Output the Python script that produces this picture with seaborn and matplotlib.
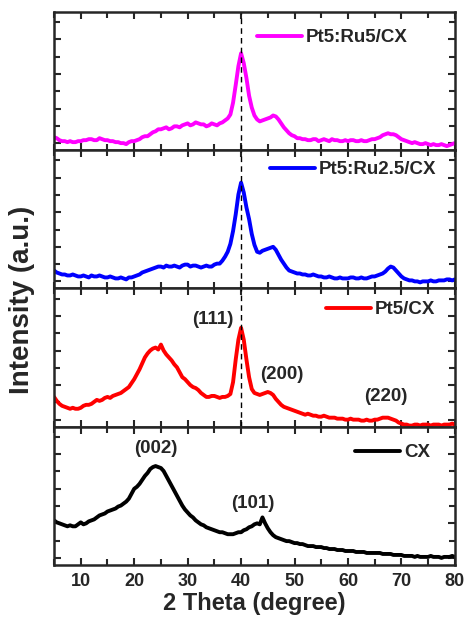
import numpy as np
import pandas as pd
import seaborn as sns
import matplotlib.pyplot as plt
from matplotlib.ticker import MultipleLocator, FixedLocator

# 2 theta grid (degree), 5 to 80 in 0.5 steps, intensities (a.u.)
two_theta = np.arange(5, 80.5, 0.5)

pt5_ru5 = [13, 12, 10, 9, 9, 8, 9, 8, 8, 9, 9, 10, 10, 11, 11, 10, 10, 12, 11, 10,
           10, 9, 9, 8, 8, 7, 7, 6, 8, 9, 9, 10, 11, 13, 14, 14, 16, 18, 19, 21,
           21, 22, 23, 21, 22, 24, 24, 23, 25, 26, 27, 25, 26, 28, 27, 26, 26, 24, 25, 27,
           26, 25, 27, 28, 30, 32, 36, 48, 66, 85, 98, 88, 73, 55, 43, 35, 31, 29, 30, 31,
           32, 33, 35, 34, 31, 27, 23, 20, 17, 15, 14, 12, 12, 11, 11, 10, 10, 11, 11, 9,
           10, 11, 10, 9, 11, 10, 10, 9, 9, 10, 9, 10, 10, 9, 9, 10, 9, 9, 10, 11,
           11, 12, 13, 15, 16, 17, 16, 16, 15, 13, 11, 10, 9, 8, 7, 8, 7, 6, 6, 7,
           6, 5, 6, 5, 5, 6, 5, 4, 5, 6, 7]
pt5_ru25 = [18, 16, 15, 14, 14, 13, 13, 14, 13, 12, 12, 13, 12, 11, 13, 12, 12, 13, 12, 11,
            11, 12, 11, 10, 10, 11, 10, 9, 11, 11, 12, 13, 14, 16, 17, 18, 19, 20, 21, 22,
            22, 21, 23, 22, 22, 23, 22, 21, 23, 24, 24, 22, 23, 23, 22, 21, 22, 23, 22, 22,
            24, 25, 25, 28, 32, 37, 45, 58, 75, 95, 107, 97, 82, 70, 55, 44, 37, 36, 38, 39,
            40, 41, 42, 39, 34, 29, 25, 21, 18, 17, 16, 15, 15, 14, 14, 13, 13, 14, 13, 12,
            12, 11, 11, 12, 11, 10, 10, 11, 10, 10, 10, 11, 11, 10, 10, 11, 10, 10, 11, 12,
            12, 13, 14, 15, 17, 20, 22, 21, 18, 15, 12, 10, 9, 8, 8, 7, 7, 6, 7, 7,
            7, 8, 7, 7, 8, 8, 8, 9, 9, 8, 9]
pt5 = [30, 26, 23, 21, 20, 19, 18, 19, 18, 18, 19, 21, 22, 22, 23, 25, 27, 26, 27, 29,
       30, 29, 31, 32, 33, 34, 36, 38, 40, 44, 48, 53, 58, 64, 70, 74, 77, 79, 80, 78,
       83, 77, 73, 70, 67, 63, 60, 55, 50, 48, 45, 42, 40, 39, 37, 34, 32, 30, 30, 31,
       31, 30, 29, 30, 30, 31, 33, 45, 68, 88, 100, 88, 68, 50, 38, 34, 33, 32, 33, 34,
       35, 34, 32, 28, 25, 22, 20, 19, 18, 17, 16, 15, 14, 13, 12, 13, 12, 11, 11, 10,
       10, 11, 10, 9, 9, 9, 8, 8, 8, 7, 7, 8, 7, 7, 7, 6, 6, 7, 6, 6,
       7, 7, 8, 9, 9, 9, 8, 7, 6, 4, 3, 2, 2, 1, 1, 2, 2, 1, 2, 2,
       2, 1, 2, 2, 2, 1, 2, 2, 2, 3, 2]
cx = [45, 43, 42, 41, 40, 39, 40, 39, 39, 41, 43, 41, 42, 44, 45, 46, 48, 50, 51, 52,
      54, 55, 56, 57, 59, 60, 62, 64, 67, 72, 77, 79, 82, 86, 90, 93, 97, 99, 100, 99,
      98, 95, 90, 85, 80, 75, 70, 65, 60, 56, 53, 50, 48, 45, 43, 41, 40, 38, 37, 36,
      35, 34, 33, 33, 32, 31, 31, 31, 32, 33, 33, 35, 36, 38, 39, 41, 42, 41, 48, 42,
      37, 33, 30, 28, 27, 26, 25, 24, 24, 23, 22, 22, 21, 21, 20, 19, 19, 19, 18, 18,
      18, 17, 17, 16, 16, 16, 15, 15, 15, 14, 14, 14, 14, 13, 13, 13, 13, 12, 12, 12,
      12, 12, 12, 11, 11, 11, 11, 10, 10, 10, 10, 9, 9, 9, 9, 8, 9, 8, 8, 8,
      8, 9, 8, 8, 8, 7, 8, 8, 8, 9, 8]

labels = ["Pt5:Ru5/CX", "Pt5:Ru2.5/CX", "Pt5/CX", "CX"]
colors = ["#ff00ff", "#0000ff", "#ff0000", "#000000"]
series = [pt5_ru5, pt5_ru25, pt5, cx]

# peak labels: (panel, text, x, y)
peak_labels = [(2, "(111)", 34.7, 108), (2, "(200)", 47.6, 53), (2, "(220)", 67, 30),
               (3, "(002)", 24, 118), (3, "(101)", 42.2, 62)]

sns.set_style("ticks")
plt.rcParams['font.family'] = ['Liberation Sans', 'DejaVu Sans']
plt.rcParams['font.weight'] = 'bold'

fig, axes = plt.subplots(4, 1, figsize=(4.66, 6.2), dpi=100, sharex=True)
fig.subplots_adjust(left=0.116, right=0.976, top=0.981, bottom=0.089, hspace=0)

# legend anchor (right end of text, vertical centre) in axes fraction
leg_anchor = [(0.883, 0.812), (0.953, 0.858), (0.950, 0.844), (0.938, 0.812)]

for i, ax in enumerate(axes):
    df = pd.DataFrame({"two_theta": two_theta, "intensity": series[i]})
    sns.lineplot(data=df, x="two_theta", y="intensity", ax=ax, color=colors[i],
                 lw=2.8, label=labels[i])
    ax.set_xlim(5, 80)
    ax.set_ylim(0, 140)
    if i < 3:
        ax.axvline(40, color="black", ls=(0, (4, 3)), lw=1)
    ax.xaxis.set_major_locator(MultipleLocator(10))
    ax.xaxis.set_minor_locator(MultipleLocator(5))
    ax.yaxis.set_major_locator(FixedLocator([7, 42, 77, 112]))
    ax.yaxis.set_minor_locator(FixedLocator([24.5, 59.5, 94.5, 129.5]))
    ax.tick_params(which="both", direction="in", top=True, right=True, width=1.5,
                   labelleft=False)
    ax.tick_params(which="major", length=5)
    ax.tick_params(which="minor", length=4)
    for s in ax.spines.values():
        s.set_linewidth(1.8)
    ax.set_ylabel("")
    ax.set_xlabel("")
    ax.legend(loc="center right", bbox_to_anchor=leg_anchor[i], frameon=False,
              handlelength=2.4, handletextpad=0.2, borderaxespad=0, borderpad=0,
              prop={"size": 13.5, "weight": "bold"})

for p, txt, x, y in peak_labels:
    axes[p].text(x, y, txt, ha="center", va="center", fontsize=13.5, fontweight="bold")

axes[3].tick_params(axis="x", labelsize=13, pad=6)
axes[3].set_xlabel("2 Theta (degree)", fontsize=17, fontweight="bold", labelpad=1)
fig.text(0.047, 0.516, "Intensity (a.u.)", rotation=90, ha="center", va="center",
         fontsize=20, fontweight="bold")

fig.savefig("out.png", dpi=100)
